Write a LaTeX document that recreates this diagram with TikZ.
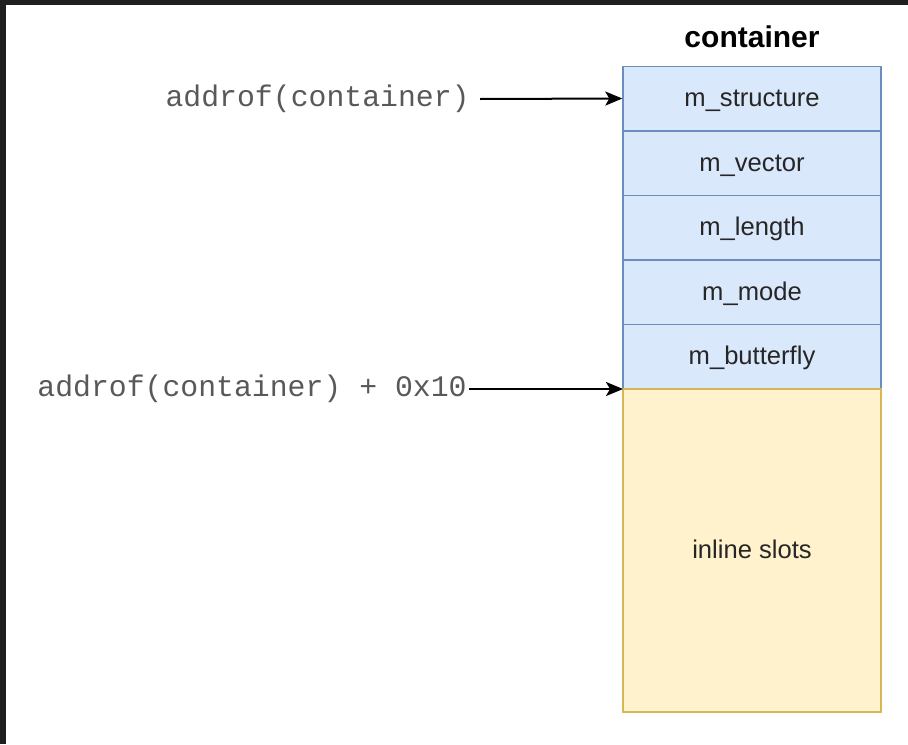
\documentclass[tikz,border=0pt]{standalone}
\usepackage{fontspec}
\setmainfont{Liberation Sans}
\setmonofont{Liberation Mono}
\usepackage{tikz}
\usetikzlibrary{arrows.meta, positioning}

\definecolor{fieldfill}{HTML}{DAE8FC}
\definecolor{fieldline}{HTML}{6C8EBF}
\definecolor{slotfill}{HTML}{FFF2CC}
\definecolor{slotline}{HTML}{D6B656}
\definecolor{frame}{HTML}{1F1F1F}

\begin{document}
\begin{tikzpicture}[x=0.5pt, y=-0.5pt, >={Stealth[length=8.5pt, width=7pt, inset=2pt]},
      field/.style={draw=fieldline, fill=fieldfill, line width=0.7pt, inner sep=0pt,
                    minimum width=129pt, minimum height=32.3pt,
                    text height=9pt, text depth=1pt,
                    font=\fontsize{12.8}{15}\selectfont, text=black!85},
      slots/.style={field, draw=slotline, fill=slotfill, minimum height=161.5pt},
      ptr/.style={font=\ttfamily\fontsize{14.9}{17}\selectfont, text=black!65,
                  anchor=east, inner sep=0pt},
      ttl/.style={font=\bfseries\fontsize{15}{18}\selectfont}]

    % page and dark edge
    \useasboundingbox (0,0) rectangle (908,744);
    \fill[white] (0,0) rectangle (908,744);
    \fill[frame] (0,0) rectangle (908,5);
    \fill[frame] (0,0) rectangle (6,744);

    % === container layout ===
    \node[ttl] (title) at (752, 37) {container};
    \node[field] (structure) at (752, 98.5)  {m\_structure};
    \node[field] (vector)    at (752, 163.1) {m\_vector};
    \node[field] (length)    at (752, 227.7) {m\_length};
    \node[field] (mode)      at (752, 292.3) {m\_mode};
    \node[field] (butterfly) at (752, 356.9) {m\_butterfly};
    \node[slots] (inline)    at (752, 550.6) {inline slots};

    % === pointers into it ===
    \node[ptr] (base) at (470, 99)  {addrof(container)};
    \node[ptr] (off)  at (467, 389) {addrof(container) + 0x10};
    \coordinate (offend) at (623, 389);

    \draw[->, line width=1pt] ([xshift=5pt]base.east) -- (structure.west);
    \draw[->, line width=1pt] ([xshift=1pt]off.east) -- (offend);

\end{tikzpicture}
\end{document}
